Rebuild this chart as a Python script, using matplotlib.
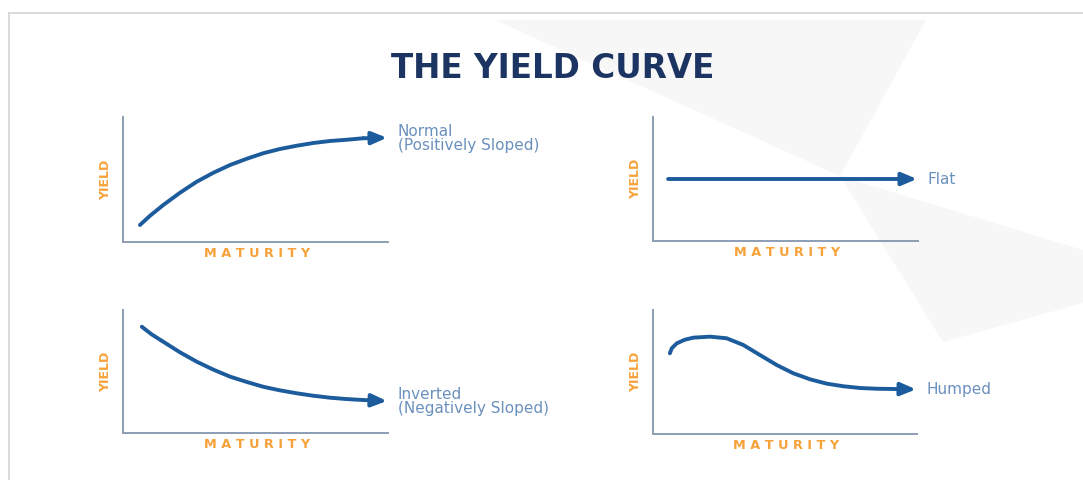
import matplotlib
matplotlib.use("Agg")
import matplotlib.pyplot as plt
from matplotlib.patches import Polygon

# ---------------- data (0-100 scale per panel) ----------------
title = "THE YIELD CURVE"
x_label = "MATURITY"
y_label = "YIELD"

normal_x = [6.4, 10.2, 15.2, 21.5, 27.8, 34.1, 40.4, 46.7, 52.9, 59.2, 65.5, 71.8, 78.1, 84.4, 90.7, 99.6]
normal_y = [13.6, 21.0, 29.6, 39.4, 48.2, 55.4, 61.6, 66.6, 71.0, 74.4, 77.0, 79.2, 80.8, 81.8, 83.0, 83.4]

flat_x = [5.7, 99.6]
flat_y = [50.0, 50.0]

inverted_x = [7.1, 10.8, 15.2, 21.5, 27.8, 34.1, 40.4, 46.7, 52.9, 59.2, 65.5, 71.8, 78.1, 84.4, 90.7, 99.6]
inverted_y = [86.4, 80.2, 74.2, 65.6, 58.0, 51.5, 45.8, 41.5, 37.6, 34.7, 32.3, 30.3, 28.7, 27.6, 26.8, 26.0]

humped_x = [6.4, 7.1, 9.0, 12.0, 15.3, 21.6, 27.9, 34.2, 40.5, 46.9, 53.1, 59.5, 65.8, 72.1, 78.4, 84.7, 91.0, 99.6]
humped_y = [65.1, 69.1, 73.1, 76.0, 77.7, 78.5, 77.2, 71.8, 63.7, 55.6, 49.0, 44.1, 40.6, 38.5, 37.1, 36.5, 36.3, 36.0]

panel_names = ["Normal\n(Positively Sloped)", "Flat", "Inverted\n(Negatively Sloped)", "Humped"]

# ---------------- styling ----------------
W, H = 1083, 480
NAVY = "#1c3461"
LINE = "#1d5c9c"
ORANGE = "#f7a139"
LABEL = "#6a90bd"
SPINE = "#8c9db3"

fig = plt.figure(figsize=(W / 100, H / 100), dpi=100)
fig.patch.set_facecolor("white")

# background decoration
bg = fig.add_axes([0, 0, 1, 1], zorder=0)
bg.set_xlim(0, W)
bg.set_ylim(H, 0)
bg.axis("off")
bg.add_patch(Polygon([(495, 20), (926, 20), (840, 176)], closed=True, fc="#f7f7f7", ec="none"))
bg.add_patch(Polygon([(840, 176), (1083, 250), (1083, 303), (943, 342)], closed=True, fc="#f7f7f7", ec="none"))
bg.plot([9, W], [13, 13], color="#d4d4d4", lw=1.2)
bg.plot([9, 9], [13, H], color="#d4d4d4", lw=1.2)

fig.text(553 / W, 1 - 68 / H, title, ha="center", va="center", fontsize=23.5,
         fontweight="bold", family=["DejaVu Sans"], color=NAVY, zorder=5)


def px_rect(x0, x1, ytop, ybot):
    return [x0 / W, 1 - ybot / H, (x1 - x0) / W, (ybot - ytop) / H]


rects = [px_rect(123, 388, 117, 242), px_rect(653, 918, 117, 241),
         px_rect(123, 388, 310, 433), px_rect(653, 917, 310, 434)]
series = [(normal_x, normal_y), (flat_x, flat_y), (inverted_x, inverted_y), (humped_x, humped_y)]

for rect, (xs, ys), name in zip(rects, series, panel_names):
    ax = fig.add_axes(rect, zorder=2)
    ax.patch.set_alpha(0)
    ax.set_xlim(0, 100)
    ax.set_ylim(0, 100)
    for s in ("top", "right"):
        ax.spines[s].set_visible(False)
    for s in ("left", "bottom"):
        ax.spines[s].set_color(SPINE)
        ax.spines[s].set_linewidth(1.4)
    ax.set_xticks([])
    ax.set_yticks([])
    # curve (stop a little before the tip; arrowhead drawn to the tip)
    ax.plot(xs[:-1], ys[:-1], color=LINE, lw=2.8, solid_capstyle="round",
            solid_joinstyle="round", clip_on=False)
    ax.annotate("", xy=(xs[-1], ys[-1]), xytext=(xs[-2], ys[-2]),
                arrowprops=dict(arrowstyle="-|>,head_length=0.9,head_width=0.38",
                                color=LINE, lw=2.8, shrinkA=0, shrinkB=0),
                annotation_clip=False)
    ax.text(xs[-1] + 4, ys[-1] - 0.5, name, ha="left", va="center", fontsize=11,
            family=["DejaVu Sans"], color=LABEL, linespacing=0.9)
    ax.text(-6.5, 50, y_label, rotation=90, ha="center", va="center", fontsize=9,
            family=["Liberation Sans Narrow", "DejaVu Sans"], fontweight="bold", color=ORANGE)
    ax.text(50.5, -9, " ".join(x_label), ha="center", va="center", fontsize=9.3,
            family=["DejaVu Sans"], fontweight="bold", color=ORANGE)

fig.savefig("out.png", dpi=100, facecolor="white")
